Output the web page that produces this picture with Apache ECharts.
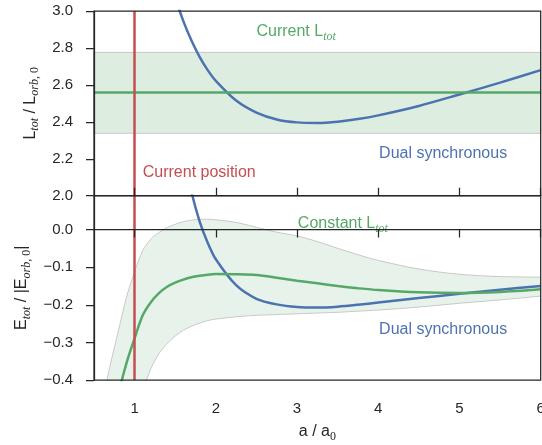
<!DOCTYPE html>
<html>
<head>
<meta charset="utf-8">
<title>Dual synchronous</title>
<script src="https://cdn.jsdelivr.net/npm/echarts@6/dist/echarts.min.js"></script>
<style>
  html, body { margin: 0; padding: 0; background: #fff; }
  #chart { width: 542px; height: 445px; }
</style>
</head>
<body>
<div id="chart"></div>
<script>
// tick labels
const xTicks = [1, 2, 3, 4, 5, 6];
const topTicks = [2.0, 2.2, 2.4, 2.6, 2.8, 3.0];
const bottomTicks = [-0.4, -0.3, -0.2, -0.1, 0.0];

// current state
const currentA = 1;
const currentL = 2.555;
const currentLLow = 2.338;
const currentLHigh = 2.776;

// dual synchronous curve (top: L_tot, bottom: E_tot)
const aDual = [1.4, 1.5, 1.6, 1.7, 1.8, 1.9, 2.0, 2.25, 2.5, 2.75, 3.0, 3.25, 3.5, 3.75, 4.0, 4.5, 5.0, 5.5, 6.0];
const lDual = [3.23, 3.075, 2.945, 2.84, 2.752, 2.68, 2.622, 2.515, 2.45, 2.413, 2.397, 2.394, 2.401, 2.415, 2.435, 2.486, 2.548, 2.612, 2.68];
const eDual = [0.51, 0.33, 0.20, 0.10, 0.022, -0.035, -0.079, -0.148, -0.184, -0.199, -0.206, -0.2075, -0.205, -0.200, -0.194, -0.182, -0.171, -0.160, -0.150];

// constant L_tot curve and its band (bottom panel)
const aConst = [0.6, 0.7, 0.8, 0.9, 1.0, 1.1, 1.2, 1.3, 1.4, 1.5, 1.6, 1.7, 1.8, 1.9, 2.0, 2.25, 2.5, 2.75, 3.0, 3.25, 3.5, 3.75, 4.0, 4.5, 5.0, 5.5, 6.0];
const eConst = [-0.78, -0.56, -0.44, -0.355, -0.289, -0.228, -0.193, -0.169, -0.152, -0.141, -0.133, -0.127, -0.123, -0.120, -0.1185, -0.119, -0.121, -0.128, -0.136, -0.143, -0.150, -0.156, -0.161, -0.167, -0.169, -0.166, -0.159];
const eConstLow = [-0.95, -0.85, -0.74, -0.63, -0.52, -0.43, -0.37, -0.33, -0.303, -0.283, -0.268, -0.257, -0.249, -0.242, -0.238, -0.232, -0.228, -0.226, -0.224, -0.222, -0.220, -0.217, -0.214, -0.206, -0.196, -0.187, -0.177];
const eConstHigh = [-0.46, -0.36, -0.27, -0.18, -0.112, -0.056, -0.025, -0.008, 0.005, 0.014, 0.021, 0.025, 0.027, 0.0275, 0.026, 0.019, 0.006, -0.007, -0.017, -0.032, -0.050, -0.067, -0.082, -0.105, -0.119, -0.125, -0.1265];

const BLUE = '#4C72B0';
const GREEN = '#55A868';
const RED = '#C44E52';
const INK = '#262626';
const BAND = 'rgba(85,168,104,0.2)';
const EDGE = '#c8c8c8';
const SANS = '"Liberation Sans", Arial, sans-serif';
const SERIF = '"Liberation Serif", "Times New Roman", serif';

const pairs = (xs, ys) => xs.map((x, i) => [x, ys[i]]);
const fmt = v => v.toFixed(1).replace('-', '\u2212');

// rich text styles for subscripts
const richFor = color => ({
    n: { fontFamily: SANS, fontSize: 16, color: color, lineHeight: 22 },
    s: { fontFamily: SERIF, fontStyle: 'italic', fontSize: 12, color: color, lineHeight: 10, verticalAlign: 'bottom' },
    r: { fontFamily: SERIF, fontSize: 12, color: color, lineHeight: 10, verticalAlign: 'bottom' }
});

const note = (x, y, text, color) => ({
    symbol: 'circle',
    symbolSize: 0,
    data: [{ coord: [x, y] }],
    itemStyle: { color: 'transparent' },
    label: {
        show: true,
        position: 'inside',
        align: 'left',
        verticalAlign: 'middle',
        formatter: text,
        rich: richFor(color)
    }
});

const vline = {
    symbol: ['none', 'none'],
    silent: true,
    label: { show: false },
    lineStyle: { color: RED, width: 2.5, type: 'solid' },
    data: [{ xAxis: currentA }]
};

const curve = {
    type: 'line',
    showSymbol: false,
    smooth: 0.3
};

const chart = echarts.init(document.getElementById('chart'));

const xBase = {
    type: 'value',
    min: 0.5,
    max: 6,
    z: 10,
    splitLine: { show: false },
    axisLine: { lineStyle: { color: INK, width: 1.25 } },
    axisTick: { customValues: xTicks, length: 8, lineStyle: { color: INK, width: 1.25 } }
};
const yBase = {
    type: 'value',
    z: 10,
    splitLine: { show: false },
    axisLine: { show: true, lineStyle: { color: INK, width: 1.25 } },
    axisTick: { show: true, length: 8, lineStyle: { color: INK, width: 1.25 } },
    axisLabel: { fontFamily: SANS, fontSize: 15, color: INK, margin: 21, formatter: fmt },
    nameLocation: 'middle',
    nameTextStyle: { rich: richFor(INK) }
};

const gridBase = { left: 94, right: 1.3, show: true, borderColor: INK, borderWidth: 1.25, z: 10, outerBoundsMode: 'none', containLabel: false };

const option = {
    animation: false,
    grid: [
        Object.assign({}, gridBase, { top: 11, height: 184.7 }),
        Object.assign({}, gridBase, { top: 195.7, height: 184.3 })
    ],
    xAxis: [
        Object.assign({}, xBase, {
            gridIndex: 0,
            axisLabel: { show: false },
            axisTick: Object.assign({}, xBase.axisTick, { inside: true })
        }),
        Object.assign({}, xBase, {
            gridIndex: 1,
            axisLabel: { customValues: xTicks, fontFamily: SANS, fontSize: 15, color: INK, margin: 21 },
            name: '{n|a / a}{r|0}',
            nameLocation: 'middle',
            nameGap: 41,
            nameTextStyle: { rich: richFor(INK) }
        })
    ],
    yAxis: [
        Object.assign({}, yBase, {
            gridIndex: 0,
            min: 2,
            max: 3,
            axisTick: Object.assign({}, yBase.axisTick, { customValues: topTicks }),
            axisLabel: Object.assign({}, yBase.axisLabel, { customValues: topTicks }),
            name: '{n|L}{s|tot}{n| / L}{s|orb, }{r|0}',
            nameGap: 50
        }),
        Object.assign({}, yBase, {
            gridIndex: 1,
            min: -0.4,
            max: 0.09,
            axisTick: Object.assign({}, yBase.axisTick, { customValues: bottomTicks }),
            axisLabel: Object.assign({}, yBase.axisLabel, { customValues: bottomTicks }),
            name: '{n|E}{s|tot}{n| / |E}{s|orb, }{r|0}{n||}',
            nameGap: 60
        })
    ],
    series: [
        // top panel: band of current L_tot
        {
            type: 'line', xAxisIndex: 0, yAxisIndex: 0, data: [], z: 1,
            markArea: {
                silent: true,
                itemStyle: { color: BAND, borderColor: EDGE, borderWidth: 1 },
                data: [[{ yAxis: currentLLow }, { yAxis: currentLHigh }]]
            }
        },
        // top panel: dual synchronous
        Object.assign({}, curve, {
            xAxisIndex: 0, yAxisIndex: 0, z: 3,
            data: pairs(aDual, lDual),
            lineStyle: { color: BLUE, width: 2.5 },
            markPoint: note(4.01, 2.226, '{n|Dual synchronous}', BLUE)
        }),
        // top panel: current L_tot
        {
            type: 'line', xAxisIndex: 0, yAxisIndex: 0, data: [], z: 4,
            markLine: {
                symbol: ['none', 'none'], silent: true, label: { show: false },
                lineStyle: { color: GREEN, width: 2.5, type: 'solid' },
                data: [{ yAxis: currentL }]
            },
            markPoint: note(2.5, 2.886, '{n|Current L}{s|tot}', GREEN)
        },
        // top panel: current position
        {
            type: 'line', xAxisIndex: 0, yAxisIndex: 0, data: [], z: 5,
            markLine: vline,
            markPoint: note(1.1, 2.127, '{n|Current position}', RED)
        },
        // bottom panel: band = fill under upper edge, then white fill under lower edge
        Object.assign({}, curve, {
            xAxisIndex: 1, yAxisIndex: 1, z: 1,
            data: pairs(aConst, eConstHigh),
            lineStyle: { color: EDGE, width: 1 },
            areaStyle: { color: BAND, origin: 'start' }
        }),
        Object.assign({}, curve, {
            xAxisIndex: 1, yAxisIndex: 1, z: 2,
            data: pairs(aConst, eConstLow),
            lineStyle: { color: EDGE, width: 1 },
            areaStyle: { color: '#ffffff', opacity: 1, origin: 'start' }
        }),
        // bottom panel: dual synchronous
        Object.assign({}, curve, {
            xAxisIndex: 1, yAxisIndex: 1, z: 3,
            data: pairs(aDual, eDual),
            lineStyle: { color: BLUE, width: 2.5 },
            markPoint: note(4.01, -0.267, '{n|Dual synchronous}', BLUE)
        }),
        // bottom panel: constant L_tot
        Object.assign({}, curve, {
            xAxisIndex: 1, yAxisIndex: 1, z: 4,
            data: pairs(aConst, eConst),
            lineStyle: { color: GREEN, width: 2.5 },
            markPoint: note(3.01, 0.016, '{n|Constant L}{s|tot}', GREEN)
        }),
        // bottom panel: current position
        {
            type: 'line', xAxisIndex: 1, yAxisIndex: 1, data: [], z: 5,
            markLine: vline
        }
    ]
};

chart.setOption(option);
</script>
</body>
</html>
